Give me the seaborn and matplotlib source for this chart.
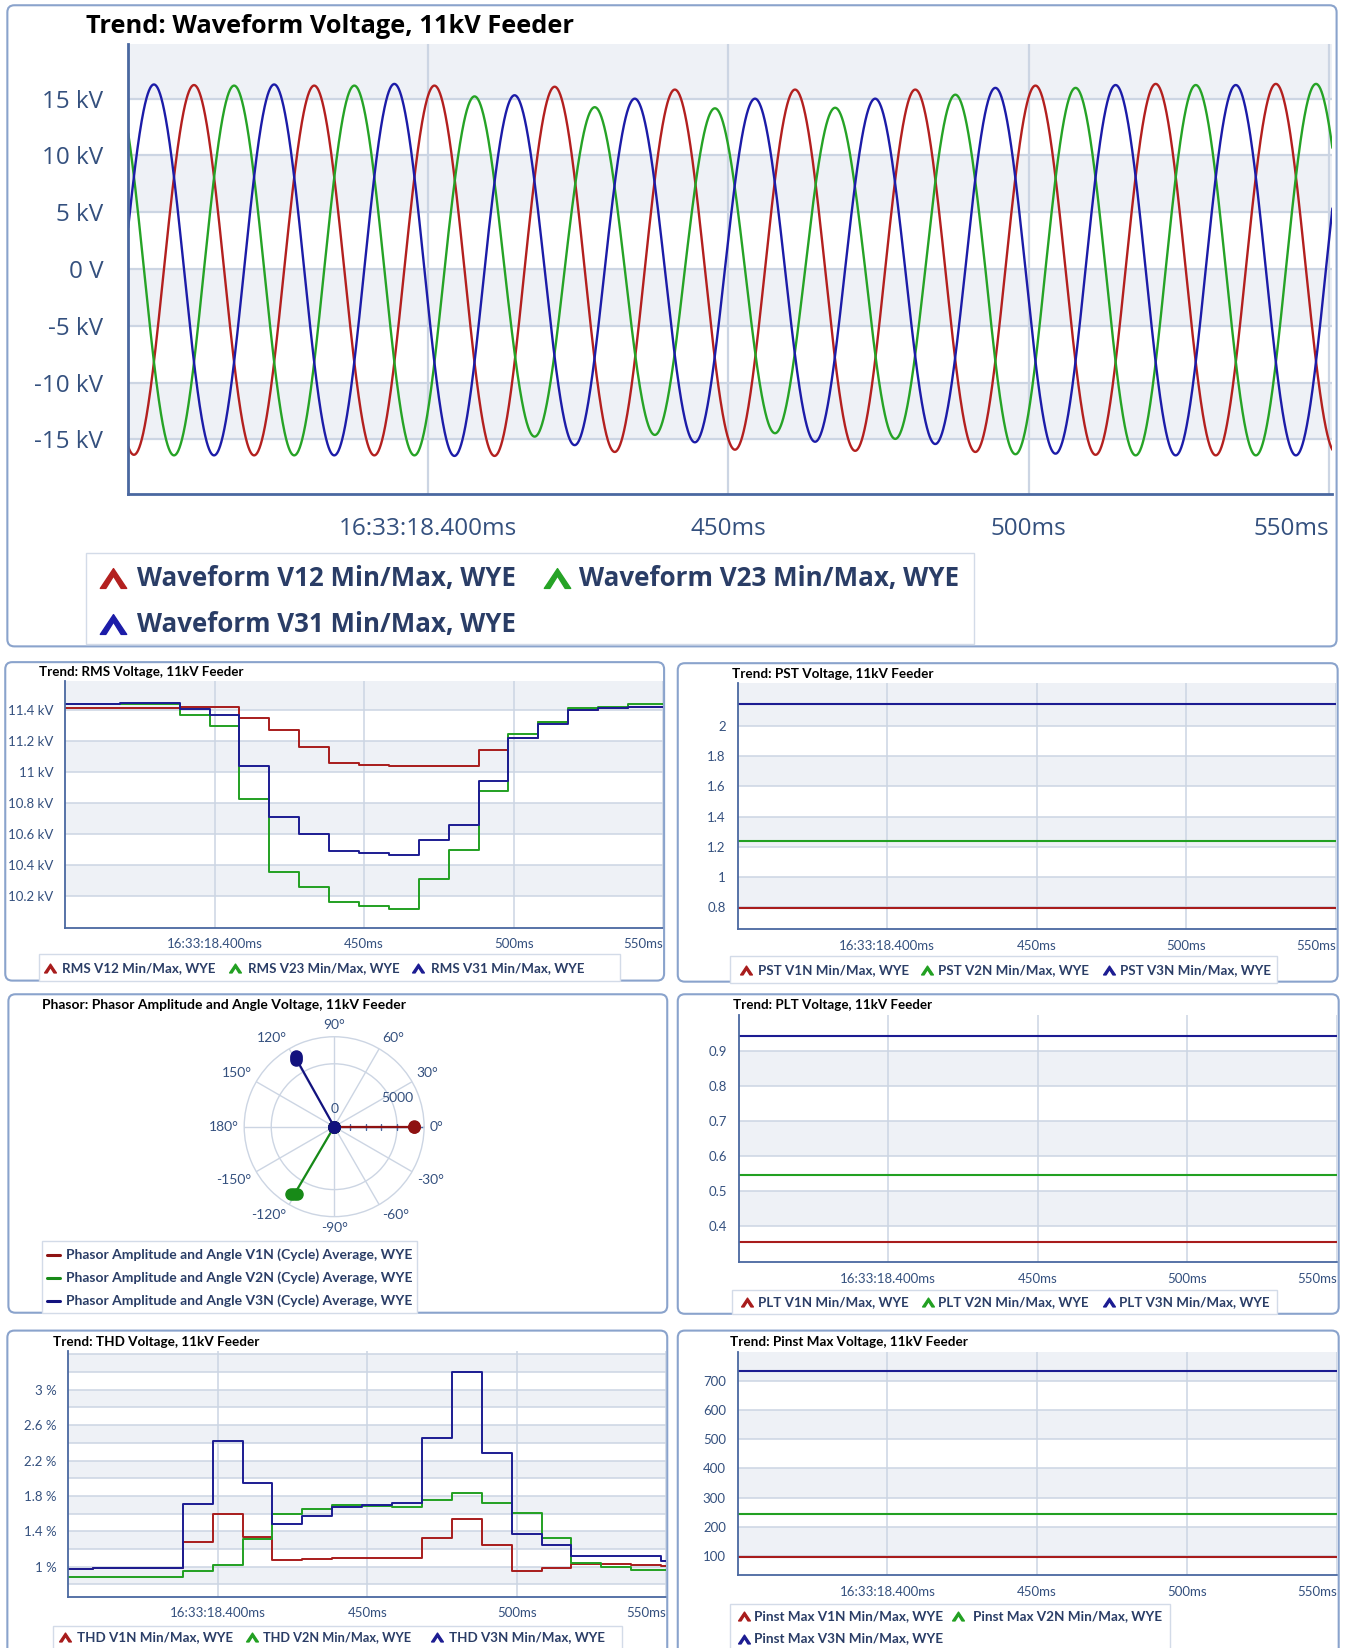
import numpy as np
import pandas as pd
import matplotlib
matplotlib.use("Agg")
import matplotlib.pyplot as plt
import seaborn as sns
from matplotlib.patches import FancyBboxPatch, Rectangle
from matplotlib.lines import Line2D
from matplotlib.path import Path
from matplotlib.transforms import IdentityTransform

# ------------------------------------------------------------------ data
# Waveform: signed peak of each successive half cycle (kV), half cycles 10 ms apart
wave_v12_first_peak_ms = 351.1
wave_v12_peaks = [-16.35, 16.2, -16.4, 16.15, -16.4, 16.15, -16.45, 16.05, -16.1, 15.8,
                  -15.9, 15.8, -16.0, 15.8, -16.1, 16.15, -16.35, 16.3, -16.4, 16.3, -16.2]
wave_v23_first_peak_ms = 347.77
wave_v23_peaks = [16.3, -16.4, 16.15, -16.4, 16.15, -16.4, 15.2, -14.75, 14.25, -14.6,
                  14.15, -14.45, 14.2, -14.95, 15.35, -16.3, 15.95, -16.4, 16.2, -16.4, 16.3]
wave_v31_first_peak_ms = 354.43
wave_v31_peaks = [16.25, -16.4, 16.25, -16.4, 16.3, -16.45, 15.3, -15.5, 15.0, -15.25,
                  15.0, -15.2, 15.0, -15.4, 15.95, -16.25, 16.2, -16.4, 16.2, -16.4, 16.2]

# Trend records, one every 10 ms (value holds until the next record)
trend_first_ms = 348.3
rms_v12 = [11.415, 11.415, 11.415, 11.415, 11.42, 11.42, 11.35, 11.276, 11.166, 11.056,
           11.048, 11.039, 11.04, 11.042, 11.145, 11.222, 11.322, 11.40, 11.415, 11.425, 11.425]
rms_v23 = [11.441, 11.443, 11.443, 11.443, 11.372, 11.298, 10.827, 10.354, 10.254, 10.157,
           10.135, 10.116, 10.306, 10.496, 10.875, 11.25, 11.328, 11.415, 11.425, 11.44, 11.44]
rms_v31 = [11.441, 11.441, 11.447, 11.45, 11.408, 11.367, 11.039, 10.71, 10.6, 10.492,
           10.479, 10.461, 10.561, 10.66, 10.941, 11.222, 11.313, 11.40, 11.415, 11.425, 11.425]

thd_v1n = [0.97, 0.981, 0.981, 0.981, 1.282, 1.59, 1.331, 1.075, 1.09, 1.10,
           1.10, 1.10, 1.32, 1.541, 1.244, 0.951, 0.989, 1.03, 1.026, 1.023, 1.011]
thd_v2n = [0.883, 0.883, 0.883, 0.883, 0.955, 1.019, 1.312, 1.60, 1.647, 1.695,
           1.684, 1.677, 1.752, 1.835, 1.722, 1.609, 1.32, 1.038, 1.0, 0.962, 0.962]
thd_v3n = [0.977, 0.989, 0.989, 0.989, 1.707, 2.421, 1.947, 1.481, 1.575, 1.677,
           1.695, 1.714, 2.459, 3.199, 2.286, 1.368, 1.244, 1.12, 1.12, 1.12, 1.068]

pst_v1n, pst_v2n, pst_v3n = 0.793, 1.238, 2.147
plt_v1n, plt_v2n, plt_v3n = 0.355, 0.546, 0.941
pinst_v1n, pinst_v2n, pinst_v3n = 96.6, 243.0, 735.0

# Phasors, one point per cycle average (volts, degrees)
phasor_v1n_volts = [6330, 6350, 6370]
phasor_v1n_deg = [0.3, 0.0, -0.3]
phasor_v2n_volts = [6120, 6250, 6380]
phasor_v2n_deg = [-118.5, -120.5, -122.5]
phasor_v3n_volts = [6080, 6220, 6360]
phasor_v3n_deg = [119.8, 119.2, 118.6]

x_tick_ms = [400, 450, 500, 550]
x_tick_labels = ["16:33:18.400ms", "450ms", "500ms", "550ms"]

# ------------------------------------------------------------------ style
W, H = 1345, 1648
sns.set_theme(style="white")
plt.rcParams["axes.unicode_minus"] = False
TOP_FONT = ["Open Sans", "DejaVu Sans"]
NARROW = ["Lato", "DejaVu Sans"]
plt.rcParams["font.family"] = NARROW

BAND = "#eef1f6"
GRID = "#ccd5e3"
AXIS = "#4a68a0"
TICK_TXT = "#34507e"
LEG_TXT = "#2a3d66"
FRAME = "#8aa3cc"
LEG_EDGE = "#d3dbe8"

TOP_COLORS = ["#b3201f", "#26a326", "#1c1ca8"]
SMALL_COLORS = ["#a81c1c", "#22a022", "#1c1c92"]
DARK_COLORS = ["#8e1212", "#178a17", "#12127e"]

fig = plt.figure(figsize=(W / 100, H / 100), dpi=100)
renderer = fig.canvas.get_renderer()


def fx(u):
    return u / 1280.0


def fy(v):
    return 1.0 - v / 1568.0


def px(u):
    return u * W / 1280.0


def py(v):
    return H - v * H / 1568.0


def add_ax(l, t, r, b, **kw):
    return fig.add_axes([fx(l), fy(b), fx(r) - fx(l), fy(t) - fy(b)], **kw)


def fit_text(x, y, s, x_right, size, family, weight="normal", color="black"):
    t = fig.text(fx(x), fy(y), s, fontsize=size, family=family, weight=weight,
                 color=color, ha="left", va="center")
    w = t.get_window_extent(renderer).width
    t.set_fontsize(size * (px(x_right) - px(x)) / w)
    return t


def frame(l, t, r, b):
    fig.add_artist(FancyBboxPatch((px(l), py(b)), px(r) - px(l), py(t) - py(b),
                                  boxstyle="round,pad=0,rounding_size=7",
                                  transform=IdentityTransform(), fc="none",
                                  ec=FRAME, lw=1.5, zorder=1))


def legend_box(l, t, r, b):
    fig.add_artist(Rectangle((px(l), py(b)), px(r) - px(l), py(t) - py(b),
                             transform=IdentityTransform(), fc="white",
                             ec=LEG_EDGE, lw=1.0, zorder=1))


CHEVRON = Path([(-1.0, -0.75), (0.0, 0.75), (1.0, -0.75), (0.58, -0.75),
                (0.0, 0.18), (-0.58, -0.75), (-1.0, -0.75)], closed=True)


def chevron(x, y, color, ms):
    fig.add_artist(Line2D([fx(x)], [fy(y)], transform=fig.transFigure, marker=CHEVRON,
                          ms=ms, color=color, ls="none", zorder=3))


def style_axes(ax, xlim, ylim, yticks, ylabels, bands, fs, family, big=False):
    ax.set_xlim(*xlim)
    ax.set_ylim(*ylim)
    ax.set_facecolor("white")
    for lo, hi in bands:
        ax.axhspan(lo, hi, color=BAND, lw=0, zorder=0)
    ax.set_yticks(yticks)
    ax.set_yticklabels(ylabels)
    ax.set_xticks(x_tick_ms)
    ax.set_xticklabels(x_tick_labels)
    ax.set_xlabel("")
    ax.set_ylabel("")
    ax.grid(True, color=GRID, lw=1.6 if big else 1.1)
    ax.set_axisbelow(True)
    for s in ("top", "right"):
        ax.spines[s].set_visible(False)
    for s in ("left", "bottom"):
        ax.spines[s].set_color(AXIS)
        ax.spines[s].set_linewidth(2.0 if big else 1.3)
    if big:
        ax.tick_params(axis="x", length=8.5, width=2.0, color=AXIS, pad=8,
                       labelsize=fs, labelcolor=TICK_TXT)
        ax.tick_params(axis="y", length=8, width=1.6, color=AXIS, pad=10,
                       labelsize=fs, labelcolor=TICK_TXT)
    else:
        ax.tick_params(axis="x", length=5, width=1.2, color=AXIS, pad=2.5,
                       labelsize=fs, labelcolor=TICK_TXT)
        ax.tick_params(axis="y", length=4.5, width=1.1, color=AXIS, pad=4,
                       labelsize=fs, labelcolor=TICK_TXT)
    for lab in ax.get_xticklabels() + ax.get_yticklabels():
        lab.set_family(family)
    ax.get_xticklabels()[-1].set_horizontalalignment("right")


def half_cycle_wave(t, first_peak, peaks, half=10.0):
    peaks = np.asarray(peaks, dtype=float)
    k = np.clip(np.round((t - first_peak) / half).astype(int), 0, len(peaks) - 1)
    return peaks[k] * np.cos(np.pi * (t - (first_peak + k * half)) / half)


def trend_frame(series, names, t_end=550.5):
    rows = []
    for vals, name in zip(series, names):
        t = list(trend_first_ms + 10.0 * np.arange(len(vals))) + [t_end]
        v = list(vals) + [vals[-1]]
        rows.append(pd.DataFrame({"t": t, "v": v, "series": name}))
    return pd.concat(rows, ignore_index=True)


def small_legend(l, t, r, b, items, ms=8.5):
    legend_box(l, t, r, b)
    for (mx, tx, tr, y, color, text) in items:
        chevron(mx, y, color, ms)
        fit_text(tx, y, text, tr, 10, NARROW, weight="bold", color=LEG_TXT)


SMALL_FS = 9.5

# ------------------------------------------------------------------ waveform panel
frame(7, 5, 1272, 615)
fit_text(82, 25, "Trend: Waveform Voltage, 11kV Feeder", 545, 20, TOP_FONT,
         weight="bold", color="black")

ax = add_ax(122, 42, 1268, 470)
t_wave = np.arange(350.15, 550.5, 0.05)
wave_df = pd.concat([
    pd.DataFrame({"t": t_wave, "kV": half_cycle_wave(t_wave, wave_v12_first_peak_ms, wave_v12_peaks), "series": "V12"}),
    pd.DataFrame({"t": t_wave, "kV": half_cycle_wave(t_wave, wave_v23_first_peak_ms, wave_v23_peaks), "series": "V23"}),
    pd.DataFrame({"t": t_wave, "kV": half_cycle_wave(t_wave, wave_v31_first_peak_ms, wave_v31_peaks), "series": "V31"}),
], ignore_index=True)
sns.lineplot(data=wave_df, x="t", y="kV", hue="series", palette=TOP_COLORS,
             estimator=None, sort=False, lw=1.7, legend=False, ax=ax)
style_axes(ax, (350.15, 550.5), (-19.8, 19.8), [-15, -10, -5, 0, 5, 10, 15],
           ["-15 kV", "-10 kV", "-5 kV", "0 V", "5 kV", "10 kV", "15 kV"],
           [(15, 19.8), (5, 10), (-5, 0), (-15, -10)], 17.5, TOP_FONT, big=True)

legend_box(82, 526, 927, 613)
for (mx, tx, tr, y, c, s) in [
        (108, 130, 491, 550, TOP_COLORS[0], "Waveform V12 Min/Max, WYE"),
        (530, 551, 913, 550, TOP_COLORS[1], "Waveform V23 Min/Max, WYE"),
        (108, 130, 491, 594, TOP_COLORS[2], "Waveform V31 Min/Max, WYE")]:
    chevron(mx, y, c, 19)
    fit_text(tx, y, s, tr, 18, TOP_FONT, weight="bold", color=LEG_TXT)

# ------------------------------------------------------------------ RMS panel
frame(5, 630, 632, 933)
fit_text(37, 639, "Trend: RMS Voltage, 11kV Feeder", 232, 10, NARROW, weight="bold")
ax = add_ax(62, 648, 631, 883)
sns.lineplot(data=trend_frame([rms_v12, rms_v23, rms_v31], ["V12", "V23", "V31"], 550.0),
             x="t", y="v", hue="series", palette=SMALL_COLORS, estimator=None,
             drawstyle="steps-post", lw=1.4, legend=False, ax=ax)
style_axes(ax, (350, 550), (9.99, 11.59), [10.2, 10.4, 10.6, 10.8, 11.0, 11.2, 11.4],
           ["10.2 kV", "10.4 kV", "10.6 kV", "10.8 kV", "11 kV", "11.2 kV", "11.4 kV"],
           [(11.4, 11.59), (11.0, 11.2), (10.6, 10.8), (10.2, 10.4)], SMALL_FS, NARROW)
small_legend(37, 908, 590, 933, [
    (48, 59, 205, 921, SMALL_COLORS[0], "RMS V12 Min/Max, WYE"),
    (224, 236, 380, 921, SMALL_COLORS[1], "RMS V23 Min/Max, WYE"),
    (398, 410, 555, 921, SMALL_COLORS[2], "RMS V31 Min/Max, WYE")])

# ------------------------------------------------------------------ PST panel
frame(645, 631, 1273, 934)
fit_text(697, 641, "Trend: PST Voltage, 11kV Feeder", 889, 10, NARROW, weight="bold")
ax = add_ax(702, 650, 1271, 884)
n = len(rms_v12)
sns.lineplot(data=trend_frame([[pst_v1n] * n, [pst_v2n] * n, [pst_v3n] * n], ["V1N", "V2N", "V3N"], 550.0),
             x="t", y="v", hue="series", palette=SMALL_COLORS, estimator=None,
             lw=1.5, legend=False, ax=ax)
style_axes(ax, (350, 550), (0.655, 2.284), [0.8, 1.0, 1.2, 1.4, 1.6, 1.8, 2.0],
           ["0.8", "1", "1.2", "1.4", "1.6", "1.8", "2"],
           [(2.0, 2.284), (1.6, 1.8), (1.2, 1.4), (0.8, 1.0)], SMALL_FS, NARROW)
small_legend(695, 910, 1215, 935, [
    (710, 721, 865, 923, SMALL_COLORS[0], "PST V1N Min/Max, WYE"),
    (882, 893, 1037, 923, SMALL_COLORS[1], "PST V2N Min/Max, WYE"),
    (1055, 1066, 1210, 923, SMALL_COLORS[2], "PST V3N Min/Max, WYE")])

# ------------------------------------------------------------------ phasor panel
frame(8, 946, 635, 1249)
fit_text(40, 956, "Phasor: Phasor Amplitude and Angle Voltage, 11kV Feeder", 385, 10,
         NARROW, weight="bold")
R_U = 85.6
cx, cy = 318, 1072
pax = add_ax(cx - R_U, cy - R_U, cx + R_U, cy + R_U, projection="polar")
RMAX = 7150
pax.set_theta_zero_location("E")
pax.set_theta_direction(1)
pax.set_ylim(0, RMAX)
pax.set_thetagrids(np.arange(0, 360, 30), labels=[""] * 12)
pax.set_rgrids([5000], labels=[""])
pax.grid(True, color=GRID, lw=1.0)
pax.spines["polar"].set_color(GRID)
pax.spines["polar"].set_linewidth(1.0)
pax.set_facecolor("white")
pax.plot([0, 0], [0, RMAX], color=AXIS, lw=1.0, zorder=2)
for r in np.arange(1250, RMAX, 1250):
    pax.plot([0], [r], marker="|", ms=4, color=AXIS, mew=1.0, zorder=2)
for vols, degs, c in [(phasor_v1n_volts, phasor_v1n_deg, DARK_COLORS[0]),
                      (phasor_v2n_volts, phasor_v2n_deg, DARK_COLORS[1]),
                      (phasor_v3n_volts, phasor_v3n_deg, DARK_COLORS[2])]:
    th = np.deg2rad(degs)
    mid = len(th) // 2
    pax.plot([th[mid], th[mid]], [0, vols[mid]], color=c, lw=1.6, zorder=3)
    pax.plot(th, vols, ls="none", marker="o", ms=8, color=c, zorder=4)
    pax.plot(th, [0] * len(th), ls="none", marker="o", ms=8, color=c, zorder=4)
angle_labels = ["0°", "30°", "60°", "90°", "120°", "150°", "180°", "-150°", "-120°",
                "-90°", "-60°", "-30°"]
for i, lab in enumerate(angle_labels):
    a = np.deg2rad(30 * i)
    ca, sa = np.cos(a), np.sin(a)
    ha = "left" if ca > 0.01 else ("right" if ca < -0.01 else "center")
    va = "bottom" if sa > 0.01 else ("top" if sa < -0.01 else "center")
    pax.text(a, RMAX * 1.06, lab, ha=ha, va=va, fontsize=SMALL_FS + 0.5,
             color=TICK_TXT, family=NARROW, clip_on=False)
fig.text(fx(cx), fy(cy - 17), "0", ha="center", va="center", fontsize=SMALL_FS + 0.5,
         color=TICK_TXT, family=NARROW)
fig.text(fx(cx + R_U * 5000 / RMAX), fy(cy - 27), "5000", ha="center", va="center",
         fontsize=SMALL_FS + 0.5, color=TICK_TXT, family=NARROW)
legend_box(40, 1181, 397, 1249)
for y, c, s in [(1194, DARK_COLORS[0], "Phasor Amplitude and Angle V1N (Cycle) Average, WYE"),
                (1216, DARK_COLORS[1], "Phasor Amplitude and Angle V2N (Cycle) Average, WYE"),
                (1238, DARK_COLORS[2], "Phasor Amplitude and Angle V3N (Cycle) Average, WYE")]:
    fig.add_artist(Line2D([fx(45), fx(57)], [fy(y), fy(y)], transform=fig.transFigure,
                          color=c, lw=2.2, zorder=3))
    fit_text(63, y, s, 392, 10, NARROW, weight="bold", color=LEG_TXT)

# ------------------------------------------------------------------ PLT panel
frame(645, 946, 1274, 1250)
fit_text(698, 956, "Trend: PLT Voltage, 11kV Feeder", 887, 10, NARROW, weight="bold")
ax = add_ax(703, 966, 1272, 1201)
sns.lineplot(data=trend_frame([[plt_v1n] * n, [plt_v2n] * n, [plt_v3n] * n], ["V1N", "V2N", "V3N"], 550.0),
             x="t", y="v", hue="series", palette=SMALL_COLORS, estimator=None,
             lw=1.5, legend=False, ax=ax)
style_axes(ax, (350, 550), (0.296, 1.001), [0.4, 0.5, 0.6, 0.7, 0.8, 0.9],
           ["0.4", "0.5", "0.6", "0.7", "0.8", "0.9"],
           [(0.8, 0.9), (0.6, 0.7), (0.4, 0.5)], SMALL_FS, NARROW)
small_legend(697, 1227, 1215, 1250, [
    (711, 721, 864, 1239, SMALL_COLORS[0], "PLT V1N Min/Max, WYE"),
    (883, 893, 1036, 1239, SMALL_COLORS[1], "PLT V2N Min/Max, WYE"),
    (1055, 1065, 1208, 1239, SMALL_COLORS[2], "PLT V3N Min/Max, WYE")])

# ------------------------------------------------------------------ THD panel
frame(7, 1266, 635, 1580)
fit_text(50, 1277, "Trend: THD Voltage, 11kV Feeder", 246, 10, NARROW, weight="bold")
ax = add_ax(65, 1285, 634, 1519)
sns.lineplot(data=trend_frame([thd_v1n, thd_v2n, thd_v3n], ["V1N", "V2N", "V3N"], 550.0),
             x="t", y="v", hue="series", palette=SMALL_COLORS, estimator=None,
             drawstyle="steps-post", lw=1.4, legend=False, ax=ax)
thd_ticks = [round(0.8 + 0.2 * i, 1) for i in range(14)]
thd_labels = [f"{v:g} %" if v in (1.0, 1.4, 1.8, 2.2, 2.6, 3.0) else "" for v in thd_ticks]
style_axes(ax, (350, 550), (0.662, 3.444), thd_ticks, thd_labels,
           [(3.2, 3.4), (2.8, 3.0), (2.4, 2.6), (2.0, 2.2), (1.6, 1.8), (1.2, 1.4), (0.8, 1.0)],
           SMALL_FS, NARROW)
small_legend(50, 1547, 592, 1575, [
    (62, 73, 221, 1558, SMALL_COLORS[0], "THD V1N Min/Max, WYE"),
    (240, 250, 392, 1558, SMALL_COLORS[1], "THD V2N Min/Max, WYE"),
    (416, 427, 575, 1558, SMALL_COLORS[2], "THD V3N Min/Max, WYE")])

# ------------------------------------------------------------------ Pinst panel
frame(645, 1266, 1274, 1580)
fit_text(695, 1277, "Trend: Pinst Max Voltage, 11kV Feeder", 921, 10, NARROW, weight="bold")
ax = add_ax(702, 1286, 1272, 1499)
sns.lineplot(data=trend_frame([[pinst_v1n] * n, [pinst_v2n] * n, [pinst_v3n] * n], ["V1N", "V2N", "V3N"], 550.0),
             x="t", y="v", hue="series", palette=SMALL_COLORS, estimator=None,
             lw=1.5, legend=False, ax=ax)
style_axes(ax, (350, 550), (32.7, 800.6), [100, 200, 300, 400, 500, 600, 700],
           ["100", "200", "300", "400", "500", "600", "700"],
           [(700, 800.6), (500, 600), (300, 400), (100, 200)], SMALL_FS, NARROW)
small_legend(695, 1526, 1113, 1580, [
    (708, 718, 897, 1538, SMALL_COLORS[0], "Pinst Max V1N Min/Max, WYE"),
    (912, 926, 1106, 1538, SMALL_COLORS[1], "Pinst Max V2N Min/Max, WYE"),
    (708, 718, 897, 1559, SMALL_COLORS[2], "Pinst Max V3N Min/Max, WYE")])

fig.savefig("out.png", dpi=100, facecolor="white")
